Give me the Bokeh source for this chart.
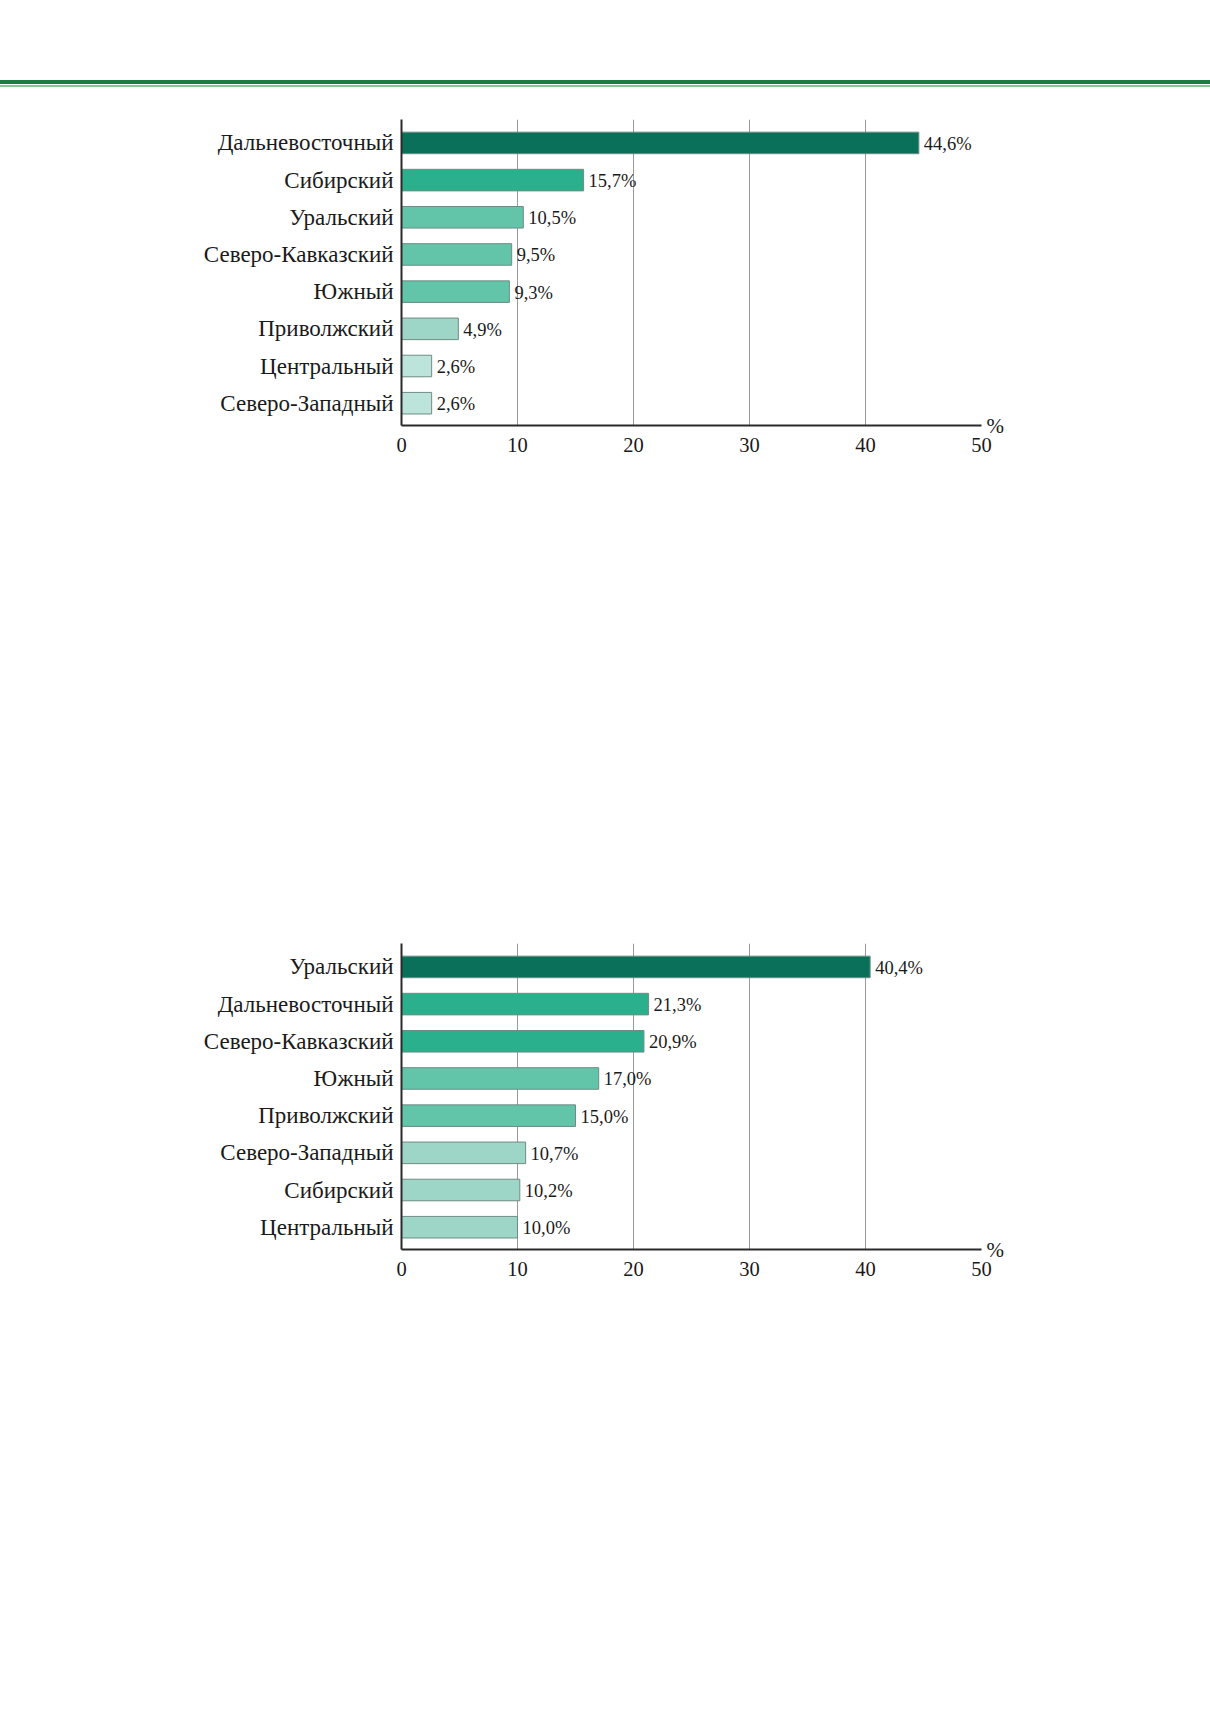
from bokeh.plotting import figure
from bokeh.layouts import column
from bokeh.models import Range1d, FixedTicker, LinearAxis, ColumnDataSource, Div
from bokeh.embed import file_html
from bokeh.resources import INLINE

# ---- data ----
regions_1 = ["Дальневосточный", "Сибирский", "Уральский", "Северо-Кавказский",
             "Южный", "Приволжский", "Центральный", "Северо-Западный"]
values_1 = [44.6, 15.7, 10.5, 9.5, 9.3, 4.9, 2.6, 2.6]

regions_2 = ["Уральский", "Дальневосточный", "Северо-Кавказский", "Южный",
             "Приволжский", "Северо-Западный", "Сибирский", "Центральный"]
values_2 = [40.4, 21.3, 20.9, 17.0, 15.0, 10.7, 10.2, 10.0]

x_ticks = [0, 10, 20, 30, 40, 50]
unit_label = "%"

# ---- styles ----
C_DARK = "#0b705a"
C_MED = "#2bb08e"
C_MID = "#62c4a8"
C_LIGHT = "#9dd6c6"
C_PALE = "#bde4da"
colors_1 = [C_DARK, C_MED, C_MID, C_MID, C_MID, C_LIGHT, C_PALE, C_PALE]
colors_2 = [C_DARK, C_MED, C_MED, C_MID, C_MID, C_LIGHT, C_LIGHT, C_LIGHT]

FONT = "Liberation Serif"
TXT = "#1a1a1a"
W = 1194
Y_TOP = -0.63
Y_BOTTOM = 7.6


def header():
    blk = "display:block;width:1210px;margin:0;padding:0;"
    html = (f'<div style="{blk}height:80px"></div>'
            f'<div style="{blk}height:3.6px;background:#1d7b44"></div>'
            f'<div style="{blk}height:1.6px;background:#ffffff"></div>'
            f'<div style="{blk}height:1.6px;background:#86c69b"></div>')
    return Div(text=html, width=1210, height=92,
               styles={"margin": "0", "padding": "0", "display": "block"})


def chart(regions, values, colors, height, top, left):
    frame_h = 306
    frame_w = 581
    p = figure(width=W, height=height, output_backend="svg", toolbar_location=None,
               x_range=Range1d(0, 50), y_range=Range1d(Y_BOTTOM, Y_TOP),
               min_border_left=left, min_border_right=W - left - frame_w,
               min_border_top=top, min_border_bottom=height - top - frame_h)
    p.outline_line_color = None

    labels = [f"{v:.1f}".replace(".", ",") + "%" for v in values]
    src = ColumnDataSource(dict(y=list(range(len(regions))), v=values,
                                c=colors, lab=labels))
    p.hbar(y="y", left=0, right="v", height=0.58, fill_color="c",
           line_color="#6f8c84", line_width=1, source=src)
    p.text(x="v", y="y", text="lab", source=src, x_offset=5, y_offset=1,
           text_baseline="middle", text_align="left",
           text_font={"value": FONT}, text_font_size="18.5px", text_color=TXT)

    # x axis
    p.xaxis.ticker = FixedTicker(ticks=x_ticks)
    p.xaxis.major_tick_line_color = None
    p.xaxis.minor_tick_line_color = None
    p.xaxis.major_tick_out = 0
    p.xaxis.major_tick_in = 0
    p.xaxis.axis_line_color = "#2a2a2a"
    p.xaxis.axis_line_width = 2
    p.xaxis.major_label_text_font = FONT
    p.xaxis.major_label_text_font_size = "20.5px"
    p.xaxis.major_label_text_color = TXT
    p.xaxis.major_label_standoff = 12

    # y axis
    p.yaxis.ticker = FixedTicker(ticks=list(range(len(regions))))
    p.yaxis.major_label_overrides = {i: r for i, r in enumerate(regions)}
    p.yaxis.major_tick_line_color = None
    p.yaxis.minor_tick_line_color = None
    p.yaxis.major_tick_out = 0
    p.yaxis.major_tick_in = 0
    p.yaxis.axis_line_color = "#2a2a2a"
    p.yaxis.axis_line_width = 2
    p.yaxis.major_label_text_font = FONT
    p.yaxis.major_label_text_font_size = "23px"
    p.yaxis.major_label_text_color = TXT
    p.yaxis.major_label_standoff = 8

    p.ygrid.visible = False
    p.xgrid.ticker = FixedTicker(ticks=x_ticks[1:])
    p.xgrid.grid_line_color = "#9a9a9a"
    p.xgrid.grid_line_width = 1

    # unit sign next to the end of the x axis
    unit_axis = LinearAxis(ticker=FixedTicker(ticks=[Y_BOTTOM]),
                           major_label_overrides={Y_BOTTOM: unit_label},
                           axis_line_color=None, major_tick_line_color=None,
                           minor_tick_line_color=None, major_tick_out=0,
                           major_tick_in=0,
                           major_label_standoff=5,
                           major_label_text_font=FONT,
                           major_label_text_font_size="21px",
                           major_label_text_color=TXT)
    p.add_layout(unit_axis, "right")
    return p


h = header()
c1 = chart(regions_1, values_1, colors_1, height=400, top=27, left=401)
c2 = chart(regions_2, values_2, colors_2, height=800, top=451, left=400)

layout = column(h, c1, c2, spacing=0)
open("out.html", "w").write(file_html(layout, INLINE))
